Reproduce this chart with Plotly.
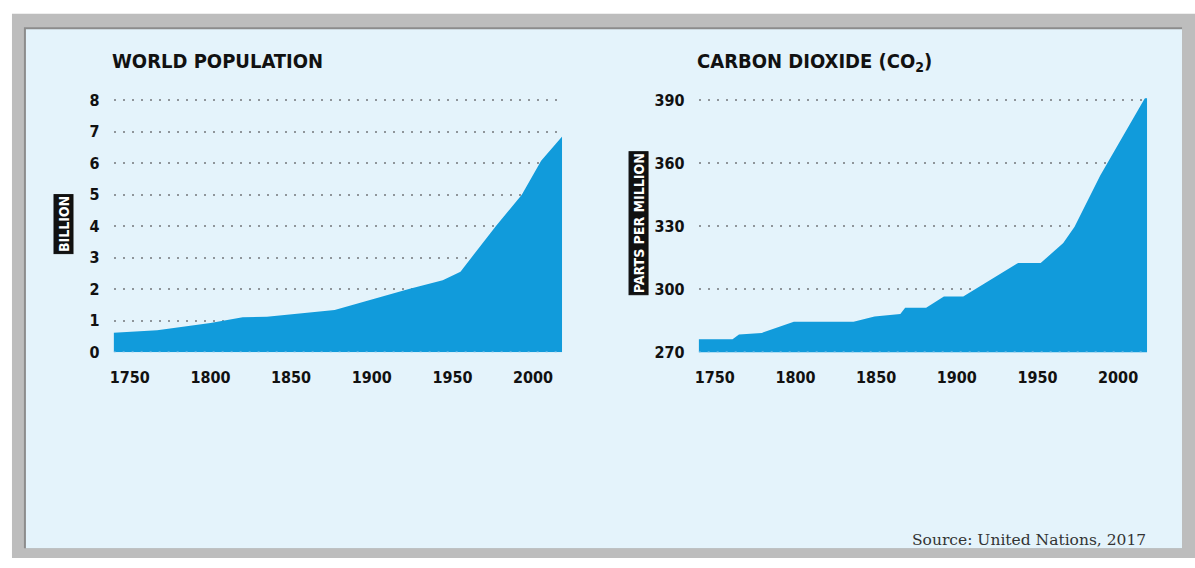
import plotly.graph_objects as go

# ---- data ----
pop_years = [1740, 1767, 1800, 1820, 1835, 1877, 1923, 1944, 1955, 1964, 1977, 1993, 2005, 2018]
pop_billion = [0.62, 0.70, 0.93, 1.11, 1.13, 1.34, 2.01, 2.29, 2.56, 3.16, 4.01, 5.00, 6.08, 6.85]

co2_years = [1740, 1761, 1765, 1779, 1799, 1836, 1849, 1865, 1868, 1881, 1892, 1904,
             1938, 1952, 1966, 1973, 1989, 2018]
co2_ppm = [276.2, 276.2, 278.5, 279.2, 284.6, 284.6, 287.1, 288.2, 291.2, 291.2, 296.6, 296.6,
           312.5, 312.5, 322.0, 329.7, 354.3, 392.8]

pop_ticks = [0, 1, 2, 3, 4, 5, 6, 7, 8]
co2_ticks = [270, 300, 330, 360, 390]
year_ticks = [1750, 1800, 1850, 1900, 1950, 2000]

W, H = 1195, 568
FILL = "#119bdb"
PANEL = "#e4f3fb"
FRAME = "#bdbdbd"
COND = ("Liberation Sans Narrow, Noto Sans ExtraCondensed, Noto Sans Condensed, "
        "DejaVu Sans Condensed, Arial Narrow, sans-serif")


def px(x):
    return x / W


def py(y):
    return 1 - y / H


fig = go.Figure()

fig.add_trace(go.Scatter(
    x=pop_years, y=pop_billion, mode="lines", fill="tozeroy",
    line=dict(width=0, color=FILL), fillcolor=FILL,
    xaxis="x", yaxis="y", hoverinfo="skip", showlegend=False,
))
fig.add_trace(go.Scatter(
    x=co2_years, y=co2_ppm, mode="lines", fill="tozeroy",
    line=dict(width=0, color=FILL), fillcolor=FILL,
    xaxis="x2", yaxis="y2", hoverinfo="skip", showlegend=False,
))

tickfont = dict(family=COND, size=16, color="#111111", weight="bold")

xcommon = dict(
    range=[1740, 2018], tickvals=year_ticks, showgrid=False, zeroline=False,
    showline=False, ticks="outside", ticklen=10, tickcolor="rgba(0,0,0,0)",
    tickfont=tickfont, fixedrange=True,
)
ycommon = dict(
    showgrid=True, gridcolor="#8f959a", gridwidth=2, griddash="2px,7px",
    zeroline=False, showline=False, ticks="outside", ticklen=10,
    tickcolor="rgba(0,0,0,0)", tickfont=tickfont, fixedrange=True,
)

# small headroom above the top tick so its grid line is drawn
y_dom = [py(356), py(94)]
pop_top = 8 + 2 / 32.5
co2_top = 390 + 2 / (260 / 120)

# faint dotted baseline over each filled area
baselines = [
    dict(type="line", xref="x", yref="y", layer="above", x0=1740, x1=2018,
         y0=pop_ticks[0], y1=pop_ticks[0], line=dict(color="#6fb9e3", width=2, dash="2px,7px")),
    dict(type="line", xref="x2", yref="y2", layer="above", x0=1740, x1=2018,
         y0=co2_ticks[0], y1=co2_ticks[0], line=dict(color="#6fb9e3", width=2, dash="2px,7px")),
]

fig.update_layout(
    width=W, height=H, autosize=False,
    margin=dict(l=0, r=0, t=0, b=0),
    paper_bgcolor="white", plot_bgcolor="rgba(0,0,0,0)",
    xaxis=dict(domain=[px(110), px(560)], anchor="y", **xcommon),
    yaxis=dict(domain=y_dom, anchor="x", range=[0, pop_top], tickvals=pop_ticks, **ycommon),
    xaxis2=dict(domain=[px(697), px(1147)], anchor="y2", **xcommon),
    yaxis2=dict(domain=y_dom, anchor="x2", range=[270, co2_top], tickvals=co2_ticks, **ycommon),
    shapes=[
        # outer frame
        dict(type="rect", xref="paper", yref="paper", layer="below",
             x0=px(8), x1=px(1195), y0=py(568), y1=py(7),
             fillcolor=FRAME, line=dict(width=0)),
        # inset panel with a darker top/left edge
        dict(type="rect", xref="paper", yref="paper", layer="below",
             x0=px(20), x1=px(1182), y0=py(558), y1=py(21),
             fillcolor="#8c8c8c", line=dict(width=0)),
        dict(type="rect", xref="paper", yref="paper", layer="below",
             x0=px(22), x1=px(1182), y0=py(558), y1=py(23),
             fillcolor=PANEL, line=dict(width=0)),
    ] + baselines,
    annotations=[
        dict(text="WORLD POPULATION", xref="paper", yref="paper",
             x=px(106), y=py(56), xanchor="left", yanchor="middle", showarrow=False,
             font=dict(family=COND, size=20, color="#111111", weight="bold")),
        dict(text="CARBON DIOXIDE (CO<sub>2</sub>)", xref="paper", yref="paper",
             x=px(693), y=py(57), xanchor="left", yanchor="middle", showarrow=False,
             font=dict(family=COND, size=20, color="#111111", weight="bold")),
        dict(text="BILLION", xref="paper", yref="paper",
             x=px(60), y=py(224), xanchor="center", yanchor="middle", showarrow=False,
             textangle=-90, bgcolor="#111111", bordercolor="#111111", borderpad=1,
             font=dict(family=COND, size=14, color="white", weight="bold")),
        dict(text="PARTS PER MILLION", xref="paper", yref="paper",
             x=px(637), y=py(223), xanchor="center", yanchor="middle", showarrow=False,
             textangle=-90, bgcolor="#111111", bordercolor="#111111", borderpad=1,
             font=dict(family=COND, size=14, color="white", weight="bold")),
        dict(text="Source: United Nations, 2017", xref="paper", yref="paper",
             x=px(1148), y=py(549), xanchor="right", yanchor="middle", showarrow=False,
             font=dict(family="DejaVu Serif, Liberation Serif, serif", size=15.5, color="#333333")),
    ],
)

fig.write_html("out.html")
